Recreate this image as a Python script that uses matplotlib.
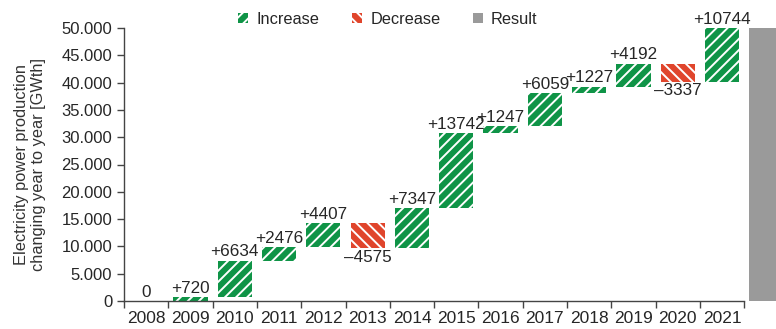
import numpy as np
import matplotlib
matplotlib.use('Agg')
import matplotlib.pyplot as plt
from matplotlib.patches import Patch
from matplotlib.ticker import FuncFormatter

plt.rcParams['font.family'] = ['Liberation Sans', 'DejaVu Sans']
plt.rcParams['hatch.linewidth'] = 1.4

GREEN = '#0f9447'
RED = '#e0452c'
GREY = '#9a9a9a'
TEXT = '#262626'

years = ['2008', '2009', '2010', '2011', '2012', '2013', '2014',
         '2015', '2016', '2017', '2018', '2019', '2020', '2021']
changes = [0, 720, 6634, 2476, 4407, -4575, 7347,
           13742, 1247, 6059, 1227, 4192, -3337, 10744]
y_ticks = [0, 5000, 10000, 15000, 20000, 25000, 30000,
           35000, 40000, 45000, 50000]
Y_MAX = 50000


def thousands(v, pos=None):
    return '{:,.0f}'.format(v).replace(',', '.')


def draw_waterfall(ax):
    x = np.arange(len(years))
    vals = np.array(changes)
    starts = np.concatenate([[0], np.cumsum(vals)[:-1]])
    total = vals.sum()

    up = vals >= 0
    down = vals < 0
    ax.bar(x[up], vals[up], bottom=starts[up], width=0.77, color=GREEN,
           edgecolor='white', linewidth=0, hatch='///')
    ax.bar(x[down], vals[down], bottom=starts[down], width=0.77, color=RED,
           edgecolor='white', linewidth=0, hatch='\\\\\\')
    # final result column, mostly outside the picture
    ax.bar([len(years)], [total], width=0.77, color=GREY, linewidth=0)

    for i, (s, v) in enumerate(zip(starts, vals)):
        if v > 0:
            top = min(s + v, Y_MAX)
            ax.annotate('+%d' % v, (i, top), xytext=(0, 1), textcoords='offset points',
                        ha='center', va='bottom', fontsize=12.3, color=TEXT)
        elif v < 0:
            ax.annotate('\u2013%d' % -v, (i, s + v), xytext=(0, -1), textcoords='offset points',
                        ha='center', va='top', fontsize=12.3, color=TEXT)
        else:
            ax.annotate('0', (i, s), xytext=(0, 1), textcoords='offset points',
                        ha='center', va='bottom', fontsize=12.3, color=TEXT)

    ax.set_xlim(-0.5, len(years) + 0.5)
    ax.set_ylim(0, Y_MAX)
    ax.set_yticks(y_ticks)
    ax.yaxis.set_major_formatter(FuncFormatter(thousands))
    ax.set_xticks(x)
    ax.set_xticklabels(years)
    ax.set_xticks(np.arange(len(years) + 1) - 0.5, minor=True)
    ax.tick_params(axis='x', which='major', length=0, pad=7, labelsize=12.5, colors=TEXT)
    ax.tick_params(axis='x', which='minor', length=5, width=1, color='#444444')
    ax.tick_params(axis='y', length=5, width=1, labelsize=12, colors=TEXT)
    ax.tick_params(axis='y', color='#444444')

    for side in ['top', 'right']:
        ax.spines[side].set_visible(False)
    for side in ['left', 'bottom']:
        ax.spines[side].set_color('#444444')
        ax.spines[side].set_linewidth(1)
    ax.spines['bottom'].set_bounds(-0.5, len(years) - 0.5)

    ax.set_ylabel('Electricity power production\nchanging year to year [GWth]',
                  fontsize=11.8, color='#333333', labelpad=11)


if __name__ == '__main__':
    fig = plt.figure(figsize=(7.76, 3.29), dpi=100)
    ax = fig.add_axes([124 / 776, 28 / 329, 664.5 / 776, 273 / 329])
    draw_waterfall(ax)

    handles = [Patch(facecolor=GREEN, edgecolor='white', linewidth=0, hatch='///', label='Increase'),
               Patch(facecolor=RED, edgecolor='white', linewidth=0, hatch='\\\\\\', label='Decrease'),
               Patch(facecolor=GREY, linewidth=0, label='Result')]
    fig.legend(handles=handles, loc='center', bbox_to_anchor=(388 / 776, 1 - 19 / 329), ncol=3,
               frameon=False, fontsize=11.8, handlelength=0.6, handleheight=0.6,
               handletextpad=0.5, columnspacing=2.0, labelcolor=TEXT)

    fig.savefig('out.png', dpi=100)
